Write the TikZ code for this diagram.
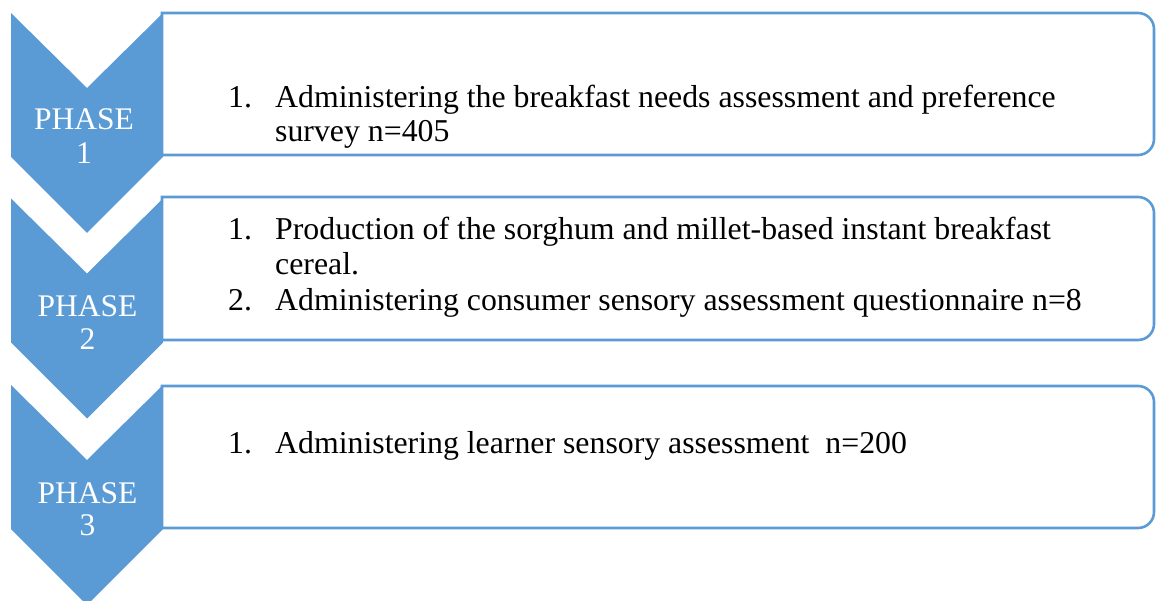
\documentclass[tikz,border=0pt]{standalone}
\usepackage{fontspec}
\setmainfont{Liberation Serif}
\definecolor{phaseblue}{HTML}{5B9BD5}
\tikzset{
  chevron/.style={fill=phaseblue, draw=none},
  stagebox/.style={draw=phaseblue, line width=2.6pt, fill=white},
  phaselabel/.style={text=white, font=\fontsize{31.5}{34}\selectfont, align=center, inner sep=0pt},
  itemtext/.style={anchor=base west, inner sep=0pt, font=\fontsize{31.8}{35}\selectfont, text=black}
}
\begin{document}
\begin{tikzpicture}[x=1pt, y=-1pt]
\useasboundingbox (0,0) rectangle (1156,601);

% phase chevrons (top y of each)
\foreach \t in {13,198.5,385}{
  \path[chevron] (11,\t) -- (87,\t+75) -- (163,\t) -- (163,\t+144)
    -- (87,\t+220) -- (11,\t+144) -- cycle;
}

% stage boxes: square on the left, rounded on the right
\foreach \t/\b in {13/155,197/340,386/528}{
  \draw[stagebox] (162,\t) -- (1138,\t) arc[start angle=-90, end angle=0, radius=16]
    -- (1154,\b-16) arc[start angle=0, end angle=90, radius=16] -- (162,\b) -- cycle;
}

% phase labels
\node[phaselabel, anchor=base] (p1a) at (84,130) {PHASE};
\node[phaselabel, anchor=base] (p1b) at (84,164) {1};
\node[phaselabel, anchor=base] (p2a) at (87.5,317) {PHASE};
\node[phaselabel, anchor=base] (p2b) at (87.5,350) {2};
\node[phaselabel, anchor=base] (p3a) at (87.5,503) {PHASE};
\node[phaselabel, anchor=base] (p3b) at (87.5,535) {3};

% phase 1 items
\node[itemtext] (n11) at (228,108) {1.};
\node[itemtext] (t11) at (275,108) {Administering the breakfast needs assessment and preference};
\node[itemtext] (t12) at (275,142) {survey n=405};

% phase 2 items
\node[itemtext] (n21) at (228,240) {1.};
\node[itemtext] (t21) at (275,240) {Production of the sorghum and millet-based instant breakfast};
\node[itemtext] (t22) at (275,275) {cereal.};
\node[itemtext] (n22) at (228,311) {2.};
\node[itemtext] (t23) at (275,311) {Administering consumer sensory assessment questionnaire n=8};

% phase 3 items
\node[itemtext] (n31) at (228,453) {1.};
\node[itemtext] (t31) at (275,453) {Administering learner sensory assessment\ \ n=200};
\end{tikzpicture}
\end{document}
